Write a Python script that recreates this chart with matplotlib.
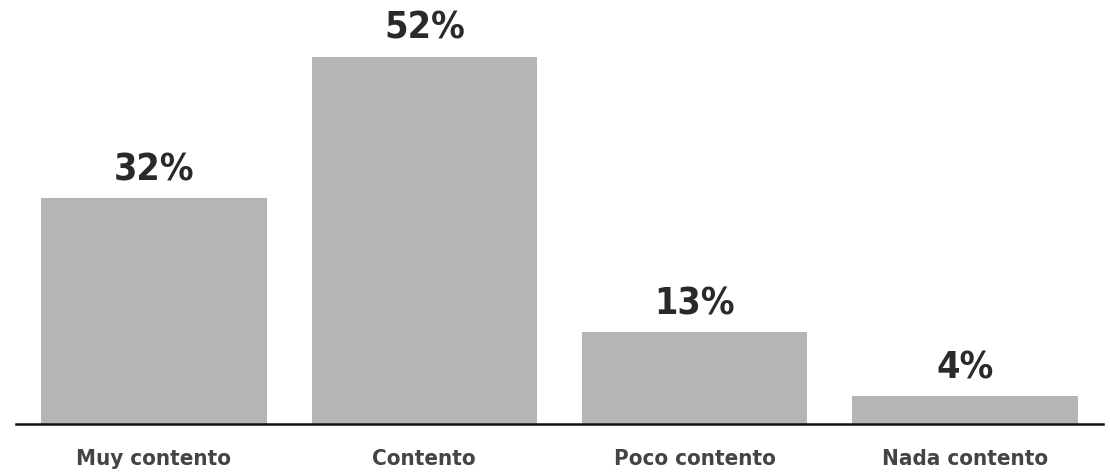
import matplotlib.pyplot as plt
import numpy as np

# satisfaction categories and percentages
categorias = ["Muy contento", "Contento", "Poco contento", "Nada contento"]
porcentajes = [32, 52, 13, 4]
etiquetas = ["32%", "52%", "13%", "4%"]

plt.rcParams['font.family'] = ['DejaVu Sans']
plt.rcParams['font.stretch'] = 'condensed'

fig = plt.figure(figsize=(11.1, 4.77), dpi=100)
ax = fig.add_axes([16/1110, 52/477, 1087/1110, 424/477])

x = np.arange(len(categorias))
ax.bar(x, porcentajes, width=0.833, color='#b5b5b8')

for xi, v, t in zip(x, porcentajes, etiquetas):
    ax.text(xi, v + 1.5, t, ha='center', va='bottom', fontsize=27,
            fontweight='bold', fontstretch='condensed', color='#2a2a2a')

ax.set_xlim(-0.51, 3.51)
ax.set_ylim(0, 60)
ax.set_xticks(x)
ax.set_xticklabels(categorias, fontsize=16, fontweight='bold',
                   fontstretch='condensed', color='#444444')
ax.tick_params(axis='x', length=0, pad=17)
ax.set_yticks([])
for s in ['top', 'right', 'left']:
    ax.spines[s].set_visible(False)
ax.spines['bottom'].set_linewidth(1.8)
ax.spines['bottom'].set_color('#111111')

fig.savefig('out.png', dpi=100)
